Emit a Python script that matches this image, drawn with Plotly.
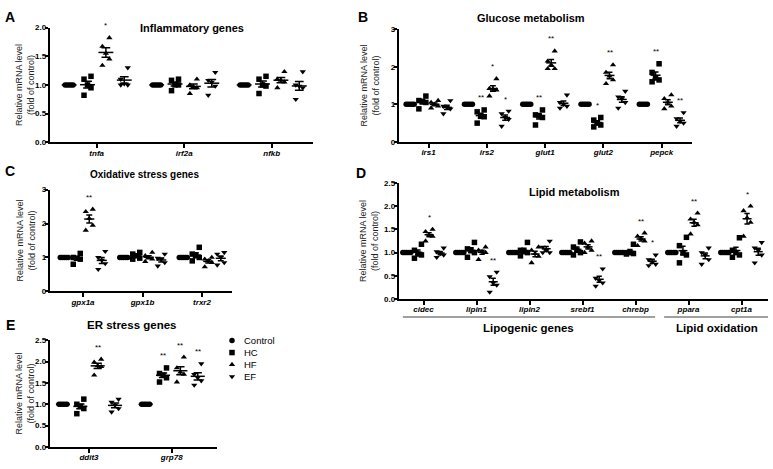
import numpy as np
import plotly.graph_objects as go

# ---------------- data ----------------
GROUPS = ["Control", "HC", "HF", "EF"]

A_GENES = ["tnfa", "irf2a", "nfkb"]
A_CON = [[1.0, 1.0, 1.0, 1.0, 1.0], [1.0, 1.0, 1.0, 1.0, 1.0], [1.0, 1.0, 1.0, 1.0, 1.0]]
A_HC = [[1.15, 1.10, 1.00, 0.95, 0.82], [1.10, 1.08, 1.00, 1.00, 0.90], [1.15, 1.10, 1.00, 0.98, 0.85]]
A_HF = [[1.82, 1.67, 1.55, 1.45, 1.34], [1.10, 1.00, 0.97, 0.95, 0.85], [1.23, 1.10, 1.08, 1.05, 0.95]]
A_EF = [[1.30, 1.10, 1.02, 1.00, 1.00], [1.22, 1.08, 1.05, 0.98, 0.82], [1.23, 1.00, 0.98, 0.95, 0.75]]
A_SIG = [["", "", "*", ""], ["", "", "", ""], ["", "", "", ""]]

B_GENES = ["irs1", "irs2", "glut1", "glut2", "pepck"]
B_CON = [[1.0, 1.0, 1.0, 1.0, 1.0], [1.0, 1.0, 1.0, 1.0, 1.0], [1.0, 1.0, 1.0, 1.0, 1.0],
         [1.0, 1.0, 1.0, 1.0, 1.0], [1.0, 1.0, 1.0, 1.0, 1.0]]
B_HC = [[1.22, 1.10, 1.08, 1.05, 0.88], [0.85, 0.80, 0.68, 0.67, 0.50], [0.85, 0.72, 0.70, 0.65, 0.45],
        [0.65, 0.58, 0.50, 0.45, 0.40], [2.08, 1.85, 1.70, 1.65, 1.60]]
B_HF = [[1.10, 1.05, 1.00, 0.95, 0.90], [1.68, 1.42, 1.40, 1.38, 1.22], [2.42, 2.15, 2.05, 1.95, 1.95],
        [2.05, 1.85, 1.75, 1.65, 1.55], [1.25, 1.15, 1.05, 0.95, 0.88]]
B_EF = [[1.10, 0.95, 0.92, 0.88, 0.75], [0.82, 0.75, 0.65, 0.60, 0.42], [1.25, 1.05, 1.00, 0.95, 0.90],
        [1.35, 1.20, 1.15, 1.05, 0.90], [0.78, 0.62, 0.55, 0.50, 0.42]]
B_SIG = [["", "", "", ""], ["", "**", "*", "*"], ["", "**", "**", ""], ["", "*", "**", ""], ["", "**", "", "**"]]

C_GENES = ["gpx1a", "gpx1b", "trxr2"]
C_CON = [[1.0, 1.0, 1.0, 1.0, 1.0], [1.0, 1.0, 1.0, 1.0, 1.0], [1.0, 1.0, 1.0, 1.0, 1.0]]
C_HC = [[1.12, 1.00, 0.98, 0.95, 0.80], [1.15, 1.10, 1.05, 0.98, 0.95], [1.30, 1.10, 1.05, 1.00, 0.90]]
C_HF = [[2.42, 2.35, 2.15, 1.95, 1.80], [1.15, 1.05, 1.00, 0.95, 0.88], [1.00, 0.95, 0.90, 0.85, 0.72]]
C_EF = [[1.18, 1.00, 0.92, 0.82, 0.65], [1.10, 0.98, 0.95, 0.85, 0.75], [1.15, 1.10, 1.00, 0.85, 0.78]]
C_SIG = [["", "", "**", ""], ["", "", "", ""], ["", "", "", ""]]

D_GENES = ["cidec", "lipin1", "lipin2", "srebf1", "chrebp", "ppara", "cpt1a"]
D_CON = [[1.0, 1.0, 1.0, 1.0, 1.0], [1.0, 1.0, 1.0, 1.0, 1.0], [1.0, 1.0, 1.0, 1.0, 1.0],
         [1.0, 1.0, 1.0, 1.0, 1.0], [1.0, 1.0, 1.0, 1.0, 1.0], [1.0, 1.0, 1.0, 1.0, 1.0],
         [1.0, 1.0, 1.0, 1.0, 1.0]]
D_HC = [[1.18, 1.05, 0.97, 0.95, 0.88], [1.22, 1.08, 1.05, 1.00, 0.90], [1.22, 1.05, 1.02, 1.00, 0.93],
        [1.23, 1.12, 1.05, 1.00, 0.95], [1.18, 1.00, 1.00, 0.98, 0.97], [1.33, 1.15, 1.00, 0.95, 0.78],
        [1.32, 1.05, 1.00, 0.95, 0.90]]
D_HF = [[1.50, 1.45, 1.38, 1.35, 1.25], [1.12, 1.05, 1.02, 1.00, 0.85], [1.12, 1.05, 0.98, 0.92, 0.78],
        [1.25, 1.20, 1.12, 1.05, 1.00], [1.42, 1.35, 1.30, 1.25, 1.15], [1.85, 1.72, 1.65, 1.60, 1.40],
        [2.00, 1.90, 1.75, 1.65, 1.35]]
D_EF = [[1.10, 1.02, 0.98, 0.95, 0.90], [0.58, 0.48, 0.35, 0.30, 0.15], [1.25, 1.12, 1.05, 1.00, 1.00],
        [0.65, 0.45, 0.40, 0.35, 0.28], [0.95, 0.85, 0.80, 0.75, 0.72], [1.10, 1.00, 0.95, 0.85, 0.75],
        [1.22, 1.10, 1.05, 0.95, 0.78]]
D_SIG = [["", "", "*", ""], ["", "", "", "**"], ["", "", "", ""], ["", "", "", "**"],
         ["", "", "**", "*"], ["", "", "**", ""], ["", "", "*", ""]]
D_GROUP_LABELS = ["Lipogenic genes", "Lipid oxidation"]

E_GENES = ["ddit3", "grp78"]
E_CON = [[1.0, 1.0, 1.0, 1.0, 1.0], [1.0, 1.0, 1.0, 1.0, 1.0]]
E_HC = [[1.12, 1.00, 0.95, 0.90, 0.78], [1.85, 1.72, 1.68, 1.62, 1.52]]
E_HF = [[2.05, 1.98, 1.90, 1.88, 1.68], [2.10, 1.85, 1.75, 1.70, 1.52]]
E_EF = [[1.12, 1.05, 0.98, 0.90, 0.82], [1.95, 1.70, 1.62, 1.55, 1.45]]
E_SIG = [["", "", "**", ""], ["", "**", "**", "**"]]

# ---------------- style ----------------
W, H = 773, 469
FONT = "Liberation Sans, Arial, sans-serif"
SYMBOLS = ["circle", "square", "triangle-up", "triangle-down"]
OFFSETS = [-0.315, -0.105, 0.105, 0.315]
JITTER_PX = [3.5, -3.5, 0.0, 3.5, -3.5]
CTRL_JITTER_PX = [-4.0, -2.0, 0.0, 2.0, 4.0]
LW = 1.5


def px(x):
    return x / W


def py(y):
    return 1 - y / H


PANELS = [
    dict(letter="A", genes=A_GENES, data=[A_CON, A_HC, A_HF, A_EF], sig=A_SIG,
         xdom=(50, 313), ydom=(24, 141), g0=96.7, ppu=87.5, yr=(0, 2.0), dtick=0.5, fmt=".1f",
         title="Inflammatory genes", tpos=(192, 24), tsize=11, lpos=(10, 13), ytx=25),
    dict(letter="B", genes=B_GENES, data=[B_CON, B_HC, B_HF, B_EF], sig=B_SIG,
         xdom=(399, 692), ydom=(25.7, 140.6), g0=428.5, ppu=58.3, yr=(0, 3), dtick=1, fmt="d",
         title="Glucose metabolism", tpos=(531, 14.5), tsize=11, lpos=(363, 13), ytx=370),
    dict(letter="C", genes=C_GENES, data=[C_CON, C_HC, C_HF, C_EF], sig=C_SIG,
         xdom=(50, 232), ydom=(189.3, 293), g0=83, ppu=59.5, yr=(0, 3), dtick=1, fmt="d",
         title="Oxidative stress genes", tpos=(144, 174), tsize=10, lpos=(10, 170), ytx=26),
    dict(letter="D", genes=D_GENES, data=[D_CON, D_HC, D_HF, D_EF], sig=D_SIG,
         xdom=(399, 768), ydom=(182.5, 300.8), g0=423.5, ppu=53.0, yr=(0, 2.5), dtick=0.5, fmt=".1f",
         title="Lipid metabolism", tpos=(574, 192), tsize=11, lpos=(361, 172), ytx=369),
    dict(letter="E", genes=E_GENES, data=[E_CON, E_HC, E_HF, E_EF], sig=E_SIG,
         xdom=(50, 217), ydom=(342.7, 451.7), g0=89, ppu=82.7, yr=(0, 2.5), dtick=0.5, fmt=".1f",
         title="ER stress genes", tpos=(132, 327), tsize=11.5, lpos=(10, 327), ytx=25),
]

fig = go.Figure()
annotations = []
shapes = []

for pi, P in enumerate(PANELS):
    n = pi + 1
    sfx = "" if n == 1 else str(n)
    xref, yref = "x" + sfx, "y" + sfx
    ppu = P["ppu"]
    for gi in range(4):
        xs, ys, mx, my, se = [], [], [], [], []
        for k, vals in enumerate(P["data"][gi]):
            arr = np.array(vals, dtype=float)
            order = np.argsort(-arr, kind="stable")
            pat = CTRL_JITTER_PX if gi == 0 else JITTER_PX
            for rank, idx in enumerate(order):
                xs.append(k + OFFSETS[gi] + pat[rank] / ppu)
                ys.append(arr[idx])
            mx.append(k + OFFSETS[gi])
            my.append(arr.mean())
            se.append(arr.std(ddof=1) / np.sqrt(len(arr)))
            s = P["sig"][k][gi]
            if s:
                annotations.append(dict(x=k + OFFSETS[gi], y=arr.max(), xref=xref, yref=yref,
                                        text=s, showarrow=False, yanchor="middle", yshift=12,
                                        font=dict(family=FONT, size=8, color="black")))
        fig.add_trace(go.Scatter(x=xs, y=ys, xaxis=xref, yaxis=yref, mode="markers",
                                 marker=dict(symbol=SYMBOLS[gi], size=5.5, color="black"),
                                 cliponaxis=False, showlegend=False, hoverinfo="skip"))
        fig.add_trace(go.Scatter(x=mx, y=my, xaxis=xref, yaxis=yref, mode="markers",
                                 marker=dict(symbol="line-ew", size=0.17 * ppu / 1.4,
                                             line=dict(width=LW, color="black"), color="black"),
                                 error_y=dict(type="data", array=se, visible=True,
                                              width=0.05 * ppu, thickness=LW, color="black"),
                                 cliponaxis=False, showlegend=False, hoverinfo="skip"))

    x0, x1 = P["xdom"]
    y0, y1 = P["ydom"]
    ng = len(P["genes"])
    fig.layout["xaxis" + sfx] = dict(
        domain=[px(x0), px(x1)], anchor=yref,
        range=[(x0 - P["g0"]) / ppu, (x1 - P["g0"]) / ppu],
        tickvals=list(range(ng)), ticktext=P["genes"],
        ticks="outside", ticklen=4, tickwidth=LW, tickcolor="black",
        showline=True, linewidth=LW, linecolor="black",
        showgrid=False, zeroline=False, fixedrange=True, ticklabelstandoff=-2,
        tickfont=dict(family=FONT, size=8, color="black", weight="bold", style="italic"))
    fig.layout["yaxis" + sfx] = dict(
        domain=[py(y1), py(y0)], anchor=xref,
        range=list(P["yr"]), dtick=P["dtick"], tick0=0, tickformat=P["fmt"],
        ticks="outside", ticklen=3.5, tickwidth=LW, tickcolor="black",
        showline=True, linewidth=LW, linecolor="black",
        showgrid=False, zeroline=False, fixedrange=True, ticklabelstandoff=-3,
        tickfont=dict(family=FONT, size=8, color="black", weight="bold"))

    annotations.append(dict(x=px(P["tpos"][0]), y=py(P["tpos"][1]), xref="paper", yref="paper",
                            text="<b>" + P["title"] + "</b>", showarrow=False,
                            xanchor="center", yanchor="middle",
                            font=dict(family=FONT, size=P["tsize"], color="black")))
    annotations.append(dict(x=px(P["lpos"][0]), y=py(P["lpos"][1]), xref="paper", yref="paper",
                            text="<b>" + P["letter"] + "</b>", showarrow=False,
                            xanchor="center", yanchor="middle",
                            font=dict(family=FONT, size=14, color="black")))
    annotations.append(dict(x=px(P["ytx"]), y=py((y0 + y1) / 2), xref="paper", yref="paper",
                            text="Relative mRNA level<br>(fold of control)", textangle=-90,
                            showarrow=False, xanchor="center", yanchor="middle",
                            font=dict(family=FONT, size=9, color="#222")))

# group brackets under panel D
GROUP_SPANS = [(-0.39, 4.37), (4.54, 6.52)]
for (a, b), lab in zip(GROUP_SPANS, D_GROUP_LABELS):
    shapes.append(dict(type="line", xref="x4", yref="paper", x0=a, x1=b, y0=py(319), y1=py(319),
                       line=dict(color="#a0a0a0", width=2)))
    annotations.append(dict(x=(a + b) / 2, y=py(330), xref="x4", yref="paper",
                            text="<b>" + lab + "</b>", showarrow=False,
                            xanchor="center", yanchor="middle",
                            font=dict(family=FONT, size=11.5, color="black")))

# legend (panel E)
fig.add_trace(go.Scatter(x=[0, 0, 0, 0], y=GROUPS, xaxis="x6", yaxis="y6", mode="markers",
                         marker=dict(symbol=SYMBOLS, size=5.5, color="black"),
                         cliponaxis=False, showlegend=False, hoverinfo="skip"))
for g in GROUPS:
    annotations.append(dict(x=0, y=g, xref="x6", yref="y6", text=g, showarrow=False,
                            xanchor="left", yanchor="middle", xshift=10,
                            font=dict(family=FONT, size=9.5, color="black")))
fig.layout["xaxis6"] = dict(domain=[px(232), px(320)], range=[0, 1], visible=False, fixedrange=True,
                            anchor="y6")
fig.layout["yaxis6"] = dict(domain=[py(386), py(337)], type="category", categoryarray=GROUPS,
                            range=[3.5, -0.5], visible=False, fixedrange=True, anchor="x6")

fig.update_layout(width=W, height=H, margin=dict(l=0, r=0, t=0, b=0),
                  paper_bgcolor="white", plot_bgcolor="white",
                  annotations=annotations, shapes=shapes, showlegend=False,
                  font=dict(family=FONT, color="black"))

fig.write_html("out.html", config={"displayModeBar": False},
               post_script="document.body.style.margin='0px';document.body.style.overflow='hidden';")
